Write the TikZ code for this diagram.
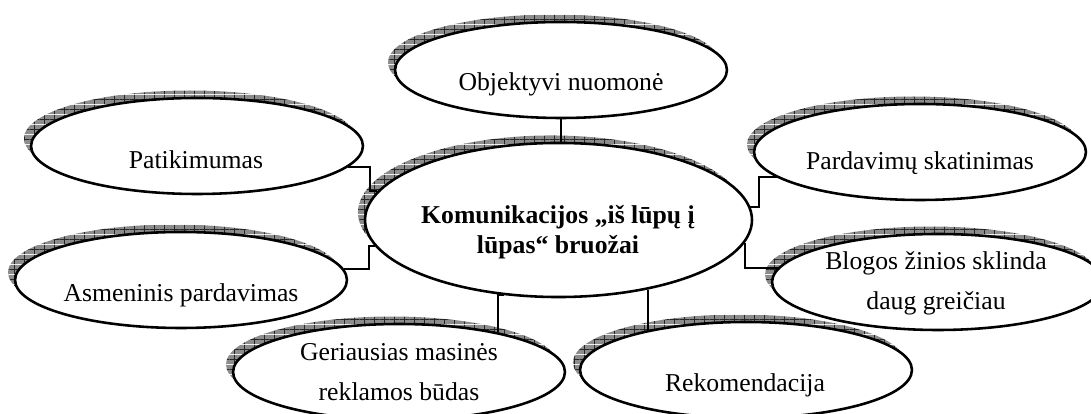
\documentclass[tikz,border=0pt]{standalone}
\usepackage{fontspec}
\setmainfont{Liberation Serif}
\usetikzlibrary{shapes.geometric,shadows,patterns}

% grey tile with a thin grid, used for the raised shadows
\pgfdeclarepatterninherentlycolored{cellgrid}
{\pgfpointorigin}{\pgfpoint{4.67pt}{4.67pt}}
{\pgfpoint{4.67pt}{4.67pt}}
{
  \pgfsetfillcolor{black!45}
  \pgfpathrectangle{\pgfpointorigin}{\pgfpoint{4.67pt}{4.67pt}}
  \pgfusepath{fill}
  \pgfsetstrokecolor{black!85}
  \pgfsetlinewidth{0.35pt}
  \pgfpathmoveto{\pgfpoint{0pt}{2.33pt}}
  \pgfpathlineto{\pgfpoint{4.67pt}{2.33pt}}
  \pgfpathmoveto{\pgfpoint{2.33pt}{0pt}}
  \pgfpathlineto{\pgfpoint{2.33pt}{4.67pt}}
  \pgfusepath{stroke}
}

\tikzset{ bubble/.style = { ellipse % feature oval
        , draw
        , line width = 1.2pt
        , fill = white
        , minimum width = 154.9pt
        , minimum height = 44.8pt
        , general shadow = {pattern = cellgrid, shadow xshift = -3.3pt, shadow yshift = 3.5pt}
        }
        , core/.style = { bubble % main oval
        , minimum width = 180.6pt
        , minimum height = 71.9pt
        }
        , caption/.style = { align = center % oval text
        , font = \fontsize{12}{18.7}\selectfont
        }
        }

\begin{document}
\begin{tikzpicture}[x=0.4667pt, y=-0.4667pt,
        link_style/.style={draw=black, line width=0.9pt}]
        \useasboundingbox (0,0) rectangle (1091,414);

        \node [core](mid) at (558.5,220) {};
        \node [bubble](obj) at (561,70) {};
        \node [bubble](pat) at (197,146) {};
        \node [bubble](asm) at (181,280) {};
        \node [bubble](par) at (920,152) {};
        \node [bubble](blo) at (938,282) {};
        \node [bubble](ger) at (399,372) {};
        \node [bubble](rek) at (746,370) {};

        \node [caption,font=\fontsize{12}{14}\selectfont\bfseries](mid_t) at (558,232) {Komunikacijos „iš lūpų į\\lūpas“ bruožai};
        \node [caption](obj_t) at (561,84) {Objektyvi nuomonė};
        \node [caption](pat_t) at (196,160) {Patikimumas};
        \node [caption](asm_t) at (181,295) {Asmeninis pardavimas};
        \node [caption](par_t) at (920,163) {Pardavimų skatinimas};
        \node [caption](blo_t) at (936,283) {Blogos žinios sklinda\\daug greičiau};
        \node [caption](ger_t) at (399,372) {Geriausias masinės\\reklamos būdas};
        \node [caption](rek_t) at (745,385) {Rekomendacija};

        \draw [link_style] (obj.south) -- (obj.south |- mid.north);
        \draw [link_style] (pat.-8.5) -- ++(22,0) |- (mid.171.5);
        \draw [link_style] (asm.4.3) -- ++(25,0) |- (mid.188.5);
        \draw [link_style] (mid.4.5) -- ++(9,0) |- (par.190.6);
        \draw [link_style] (mid.-7.2) |- (blo.175);
        \draw [link_style] (mid.234) -| (ger.22);
        \draw [link_style] (mid.-38.1) -- (mid.-38.1 |- rek.159);
\end{tikzpicture}
\end{document}
